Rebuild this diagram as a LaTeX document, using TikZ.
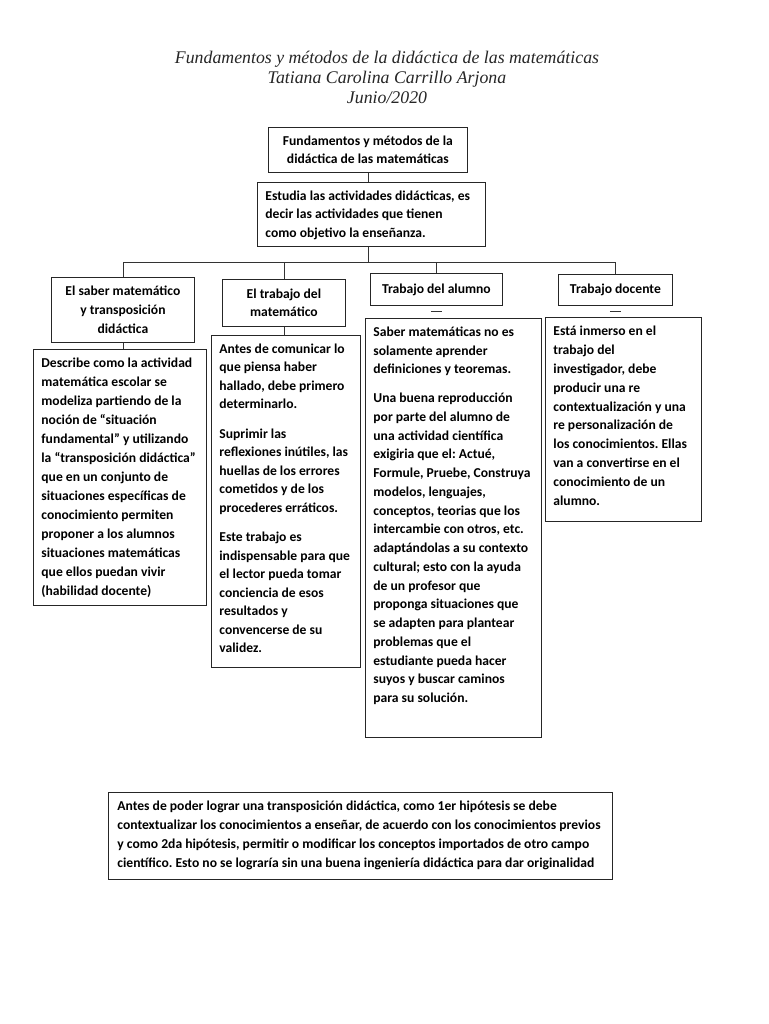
\documentclass[tikz,border=0pt]{standalone}
\usepackage{fontspec}
\setmainfont{Carlito}
\newfontfamily\titlefont{Liberation Serif}
\usetikzlibrary{positioning}
\frenchspacing

\begin{document}
\begin{tikzpicture}[
  x=1pt, y=-1pt,
  font=\fontsize{13.6}{18.5}\selectfont\bfseries,
  hdbox/.style={draw=black!85, line width=0.8pt, anchor=north west, align=center, inner sep=0pt},
  txbox/.style={draw=black!85, line width=0.8pt, anchor=north west, align=flush left, text height=15pt, inner xsep=8pt, inner ysep=3pt},
  link/.style={draw=black!80, line width=0.7pt}
]
  \useasboundingbox[fill=white] (0,0) rectangle (768,1024);

  % title
  \node[font=\titlefont\itshape\fontsize{17.8}{20}\selectfont, align=center, text=black!85] (titulo) at (387,77)
    {Fundamentos y métodos de la didáctica de las matemáticas\\Tatiana Carolina Carrillo Arjona\\Junio/2020};

  % top of the map
  \node[hdbox, minimum width=199pt, minimum height=45pt] (fund) at (268,127)
    {Fundamentos y métodos de la\\didáctica de las matemáticas};
  \node[txbox, text width=212pt, text depth=43pt] (estudia) at (257,182)
    {Estudia las actividades didácticas, es\\decir las actividades que tienen\\como objetivo la enseñanza.};

  % column heads
  \node[hdbox, minimum width=143pt, minimum height=65pt, font=\fontsize{13.6}{19}\selectfont\bfseries] (saber) at (51,277)
    {El saber matemático\\y transposición\\didáctica};
  \node[hdbox, minimum width=123pt, minimum height=47pt] (trabmat) at (222,279)
    {El trabajo del\\matemático};
  \node[hdbox, minimum width=132pt, minimum height=32pt] (alumno) at (370,273) {Trabajo del alumno};
  \node[hdbox, minimum width=114pt, minimum height=31pt] (docente) at (558,274) {Trabajo docente};

  % column texts
  \node[txbox, text width=157pt, text depth=235pt, font=\fontsize{13.6}{19}\selectfont\bfseries] (dsaber) at (33,349)
    {Describe como la actividad\\matemática escolar se\\modeliza partiendo de la\\noción de “situación\\fundamental” y utilizando\\la “transposición didáctica”\\que en un conjunto de\\situaciones específicas de\\conocimiento permiten\\proponer a los alumnos\\situaciones matemáticas\\que ellos puedan vivir\\(habilidad docente)};
  \node[txbox, text width=133pt, text depth=311pt] (dtrabmat) at (211,335)
    {Antes de comunicar lo\\que piensa haber\\hallado, debe primero\\determinarlo.\\[11pt]Suprimir las\\reflexiones inútiles, las\\huellas de los errores\\cometidos y de los\\procederes erráticos.\\[11pt]Este trabajo es\\indispensable para que\\el lector pueda tomar\\conciencia de esos\\resultados y\\convencerse de su\\validez.};
  \node[txbox, text width=160pt, text depth=398pt, font=\fontsize{13.6}{18.75}\selectfont\bfseries] (dalumno) at (365,318)
    {Saber matemáticas no es\\solamente aprender\\definiciones y teoremas.\\[10pt]Una buena reproducción\\por parte del alumno de\\una actividad científica\\exigiria que el: Actué,\\Formule, Pruebe, Construya\\modelos, lenguajes,\\conceptos, teorias que los\\intercambie con otros, etc.\\adaptándolas a su contexto\\cultural; esto con la ayuda\\de un profesor que\\proponga situaciones que\\se adapten para plantear\\problemas que el\\estudiante pueda hacer\\suyos y buscar caminos\\para su solución.};
  \node[txbox, text width=140pt, text depth=183pt, font=\fontsize{13.6}{18.9}\selectfont\bfseries] (ddocente) at (545,317)
    {Está inmerso en el\\trabajo del\\investigador, debe\\producir una re\\contextualización y una\\re personalización de\\los conocimientos. Ellas\\van a convertirse en el\\conocimiento de un\\alumno.};

  % closing note
  \node[txbox, inner xsep=9pt, text width=486pt, text depth=66pt, font=\fontsize{13.6}{19}\selectfont\bfseries] (nota) at (108,792)
    {Antes de poder lograr una transposición didáctica, como 1er hipótesis se debe\\contextualizar los conocimientos a enseñar, de acuerdo con los conocimientos previos\\y como 2da hipótesis, permitir o modificar los conceptos importados de otro campo\\científico. Esto no se lograría sin una buena ingeniería didáctica para dar originalidad};

  % connectors
  \coordinate (bar) at (0,262);
  \draw[link] (fund.south) -- (fund.south |- estudia.north);
  \draw[link] (estudia.south -| fund.south) -- (fund.south |- bar);
  \draw[link] (saber.north) -- (saber.north |- bar) -- (docente.north |- bar) -- (docente.north);
  \draw[link] (trabmat.north) -- (trabmat.north |- bar);
  \draw[link] (alumno.north) -- (alumno.north |- bar);
  \draw[link] (saber.south) -- (saber.south |- dsaber.north);
  \draw[link] (trabmat.south) -- (trabmat.south |- dtrabmat.north);
  \draw[link] ([xshift=-5.5pt,yshift=-6pt]alumno.south) -- ++(11,0);
  \draw[link] ([xshift=-5.5pt,yshift=-6pt]docente.south) -- ++(11,0);
\end{tikzpicture}
\end{document}
